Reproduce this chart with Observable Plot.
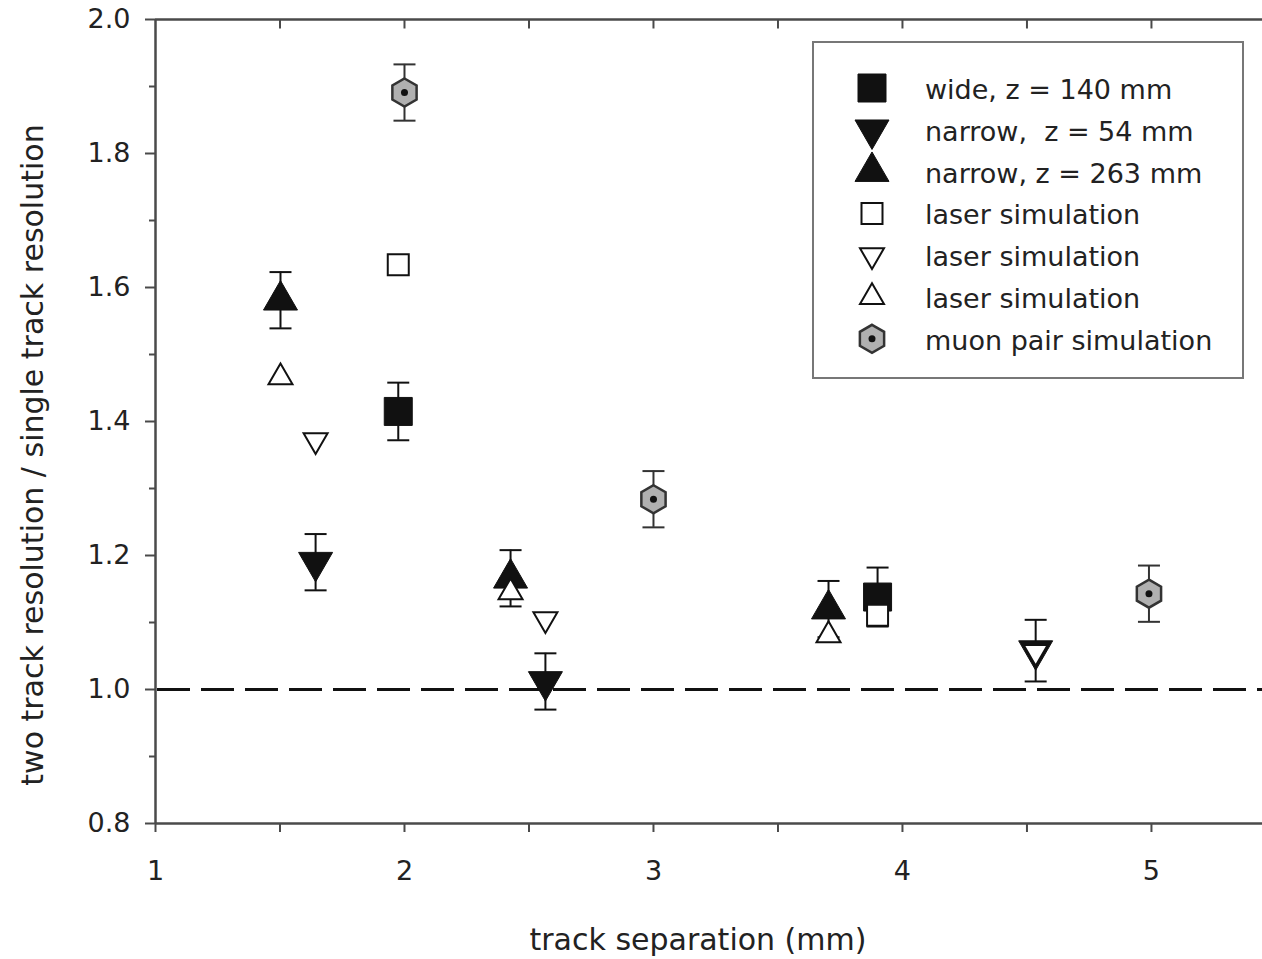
<!DOCTYPE html>
<html>
<head>
<meta charset="utf-8">
<script src="https://cdn.jsdelivr.net/npm/d3@7"></script>
<script src="https://cdn.jsdelivr.net/npm/@observablehq/plot@0.6"></script>
<style>
  html, body { margin: 0; padding: 0; background: #fff; }
  #chart svg { display: block; }
</style>
</head>
<body>
<div id="chart"></div>
<script>
// ---------- data ----------
const wideX = [1.975, 3.90];
const wideY = [1.415, 1.138];
const wideErr = [0.043, 0.044];

const narrow54X = [1.643, 2.566, 4.535];
const narrow54Y = [1.190, 1.012, 1.058];
const narrow54Err = [0.042, 0.042, 0.046];

const narrow263X = [1.502, 2.426, 3.703];
const narrow263Y = [1.581, 1.166, 1.120];
const narrow263Err = [0.042, 0.042, 0.042];

const laserSqX = [1.975, 3.90];
const laserSqY = [1.634, 1.111];

const laserDownX = [1.643, 2.566, 4.535];
const laserDownY = [1.372, 1.105, 1.056];

const laserUpX = [1.502, 2.426, 3.703];
const laserUpY = [1.466, 1.145, 1.081];

const muonX = [2.0, 3.0, 4.99];
const muonY = [1.891, 1.284, 1.143];
const muonErr = [0.042, 0.042, 0.042];

const xMajor = [1, 2, 3, 4, 5];
const xMinor = [1.5, 2.5, 3.5, 4.5];
const xTop = [1.5, 2, 2.5, 3, 3.5, 4, 4.5, 5];
const yMajor = [0.8, 1.0, 1.2, 1.4, 1.6, 1.8, 2.0];
const yMinor = [0.9, 1.1, 1.3, 1.5, 1.7, 1.9];
const refLine = [1.0];

const legendLabels = [
  "wide, z = 140 mm",
  "narrow,  z = 54 mm",
  "narrow, z = 263 mm",
  "laser simulation",
  "laser simulation",
  "laser simulation",
  "muon pair simulation"
];
const xLabel = "track separation (mm)";
const yLabel = "two track resolution / single track resolution";

// ---------- symbols ----------
const sym = (fn) => ({ draw(ctx, size) { fn(ctx, Math.sqrt(size / Math.PI)); } });
const symSquare = sym((c, r) => { c.moveTo(-r, -r); c.lineTo(r, -r); c.lineTo(r, r); c.lineTo(-r, r); c.closePath(); });
const symUp = sym((c, r) => { const h = r * Math.sqrt(3); c.moveTo(0, -2 * h / 3); c.lineTo(r, h / 3); c.lineTo(-r, h / 3); c.closePath(); });
const symDown = sym((c, r) => { const h = r * Math.sqrt(3); c.moveTo(0, 2 * h / 3); c.lineTo(r, -h / 3); c.lineTo(-r, -h / 3); c.closePath(); });
const symHex = sym((c, r) => { for (let k = 0; k < 6; k++) { const a = -Math.PI / 2 + k * Math.PI / 3; const px = r * Math.cos(a), py = r * Math.sin(a); k ? c.lineTo(px, py) : c.moveTo(px, py); } c.closePath(); });
const symHLine = sym((c, r) => { c.moveTo(-r, 0); c.lineTo(r, 0); });
const symVDown = sym((c, r) => { c.moveTo(0, 0); c.lineTo(0, r); });

const table = (xs, ys, es) => xs.map((x, i) => ({ x, y: ys[i], e: es ? es[i] : 0 }));
const wide = table(wideX, wideY, wideErr);
const narrow54 = table(narrow54X, narrow54Y, narrow54Err);
const narrow263 = table(narrow263X, narrow263Y, narrow263Err);
const laserSq = table(laserSqX, laserSqY);
const laserDown = table(laserDownX, laserDownY);
const laserUp = table(laserUpX, laserUpY);
const muon = table(muonX, muonY, muonErr);

const errMarks = (data, stroke) => [
  Plot.ruleX(data, { x: "x", y1: d => d.y - d.e, y2: d => d.y + d.e, stroke, strokeWidth: 2 }),
  Plot.dot(data, { x: "x", y: d => d.y + d.e, symbol: symHLine, r: 11, stroke, strokeWidth: 2, fill: "none" }),
  Plot.dot(data, { x: "x", y: d => d.y - d.e, symbol: symHLine, r: 11, stroke, strokeWidth: 2, fill: "none" })
];

const series = [
  { data: wide, symbol: symSquare, r: 14, fill: "#111", stroke: "#111", sw: 1 },
  { data: narrow54, symbol: symDown, r: 17, fill: "#111", stroke: "#111", sw: 1 },
  { data: narrow263, symbol: symUp, r: 17, fill: "#111", stroke: "#111", sw: 1 },
  { data: laserSq, symbol: symSquare, r: 10.5, fill: "#fff", stroke: "#111", sw: 2 },
  { data: laserDown, symbol: symDown, r: 12, fill: "#fff", stroke: "#111", sw: 2 },
  { data: laserUp, symbol: symUp, r: 12, fill: "#fff", stroke: "#111", sw: 2 },
  { data: muon, symbol: symHex, r: 14, fill: "#b0b0b0", stroke: "#333", sw: 2.5, center: true }
];

const axisColor = "#4a4a4a";
const textColor = "#222";
const font = "DejaVu Sans";

const marks = [
  // axis lines
  Plot.ruleX([1], { stroke: axisColor, strokeWidth: 2.5 }),
  Plot.ruleY([0.8, 2.0], { stroke: axisColor, strokeWidth: 2.5 }),
  // ticks
  Plot.axisY(yMajor, { anchor: "left", tickSize: 10, tickPadding: 15, fontSize: 27, stroke: axisColor, strokeWidth: 2, fill: textColor, tickFormat: d => d.toFixed(1), label: null }),
  Plot.axisY(yMinor, { anchor: "left", tickSize: 6, stroke: axisColor, strokeWidth: 2, fill: "none" }),
  Plot.axisX(xMajor, { anchor: "bottom", tickSize: 9, tickPadding: 28, fontSize: 27, stroke: axisColor, strokeWidth: 2, fill: textColor, tickFormat: d => String(d), label: null }),
  Plot.axisX(xMinor, { anchor: "bottom", tickSize: 9, stroke: axisColor, strokeWidth: 2, fill: "none" }),
  Plot.dot(xTop, { x: d => d, frameAnchor: "top", symbol: symVDown, r: 9, stroke: axisColor, strokeWidth: 2, fill: "none" }),
  // reference line
  Plot.ruleY(refLine, { stroke: "#111", strokeWidth: 3, strokeDasharray: "33,11", strokeDashoffset: -2 }),
  // error bars
  ...errMarks(wide, "#111"),
  ...errMarks(narrow54, "#111"),
  ...errMarks(narrow263, "#111"),
  ...errMarks(muon, "#333"),
  // markers
  ...series.map(s => Plot.dot(s.data, { x: "x", y: "y", symbol: s.symbol, r: s.r, fill: s.fill, stroke: s.stroke, strokeWidth: s.sw })),
  Plot.dot(muon, { x: "x", y: "y", r: 3.5, fill: "#111", stroke: "none" })
];

const svg = Plot.plot({
  width: 1262,
  height: 959,
  marginLeft: 155,
  marginRight: 0,
  marginTop: 19,
  marginBottom: 136,
  style: { fontFamily: font, background: "#fff", overflow: "visible" },
  x: { domain: [1, 5.446], axis: null },
  y: { domain: [0.8, 2.0], axis: null },
  marks
});

// axis titles
const s = d3.select(svg);
s.append("text").attr("x", 698).attr("y", 950).attr("text-anchor", "middle")
  .attr("font-family", font).attr("font-size", 30).attr("fill", textColor).text(xLabel);
s.append("text").attr("transform", "translate(43,455) rotate(-90)").attr("text-anchor", "middle")
  .attr("font-family", font).attr("font-size", 30).attr("fill", textColor).text(yLabel);

// legend
const lg = s.append("g").attr("text-anchor", "start");
lg.append("rect").attr("x", 813).attr("y", 42).attr("width", 430).attr("height", 336)
  .attr("fill", "#fff").attr("stroke", "#777").attr("stroke-width", 2);
legendLabels.forEach((label, i) => {
  const base = 99 + i * 41.8;
  const cy = base - 11;
  const ser = series[i];
  const p = d3.path();
  ser.symbol.draw(p, ser.r * ser.r * Math.PI);
  lg.append("path").attr("d", p.toString()).attr("transform", `translate(872,${cy})`)
    .attr("fill", ser.fill).attr("stroke", ser.stroke).attr("stroke-width", ser.sw);
  if (ser.center) lg.append("circle").attr("cx", 872).attr("cy", cy).attr("r", 3.5).attr("fill", "#111");
  lg.append("text").attr("x", 925).attr("y", base).attr("text-anchor", "start")
    .attr("font-family", font).attr("font-size", 27).attr("fill", textColor).text(label);
});

document.getElementById("chart").appendChild(svg);
</script>
</body>
</html>
